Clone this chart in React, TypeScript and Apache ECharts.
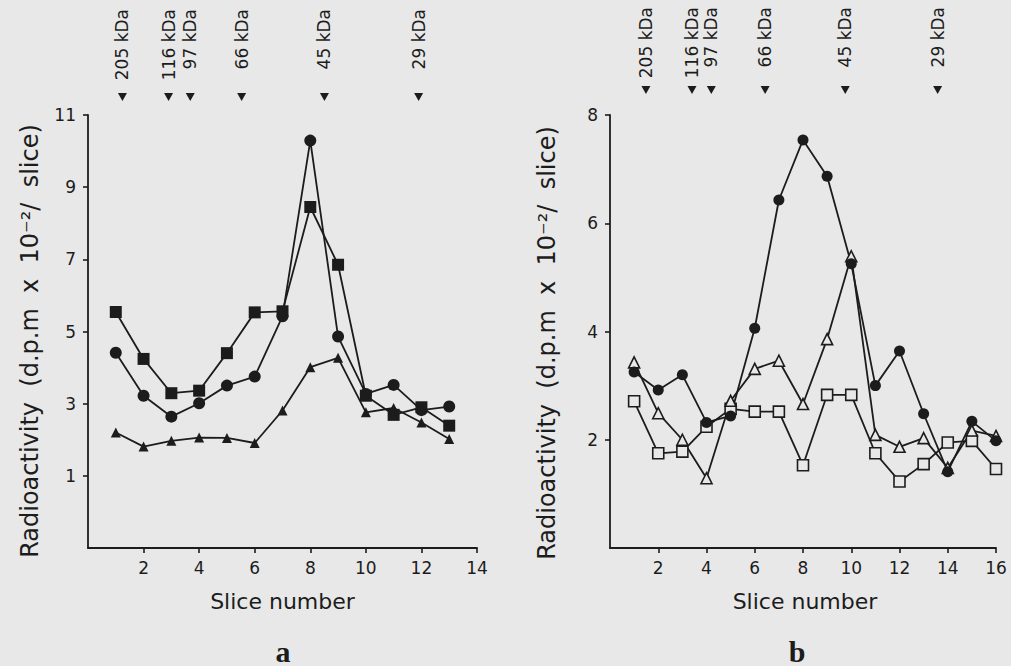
import React, { useEffect, useRef } from "react";
import * as echarts from "echarts";

// ---- Panel a data ----
const slicesA = [1, 2, 3, 4, 5, 6, 7, 8, 9, 10, 11, 12, 13];
const squaresA = [5.54, 4.24, 3.29, 3.36, 4.4, 5.53, 5.56, 8.45, 6.85, 3.22, 2.69, 2.9, 2.39];
const circlesA = [4.41, 3.22, 2.64, 3.01, 3.5, 3.75, 5.42, 10.29, 4.86, 3.27, 3.52, 2.82, 2.92];
const trianglesA = [2.2, 1.81, 1.97, 2.06, 2.05, 1.91, 2.81, 4.01, 4.27, 2.76, 2.88, 2.48, 2.02];
const xTicksA = [2, 4, 6, 8, 10, 12, 14];
const yTicksA = [1, 3, 5, 7, 9, 11];

// ---- Panel b data ----
const slicesB = [1, 2, 3, 4, 5, 6, 7, 8, 9, 10, 11, 12, 13, 14, 15, 16];
const circlesB = [3.25, 2.92, 3.2, 2.32, 2.44, 4.06, 6.43, 7.54, 6.87, 5.25, 3.0, 3.64, 2.48, 1.41, 2.34, 1.98];
const trianglesB = [3.43, 2.49, 2.0, 1.29, 2.72, 3.31, 3.46, 2.66, 3.86, 5.39, 2.09, 1.87, 2.03, 1.48, 2.17, 2.07];
const squaresB = [2.71, 1.75, 1.78, 2.24, 2.57, 2.52, 2.52, 1.53, 2.83, 2.83, 1.75, 1.23, 1.55, 1.95, 1.98, 1.46];
const xTicksB = [2, 4, 6, 8, 10, 12, 14, 16];
const yTicksB = [2, 4, 6, 8];

// ---- Molecular weight markers (positions in slice units) ----
const markerLabels = ["205 kDa", "116 kDa", "97 kDa", "66 kDa", "45 kDa", "29 kDa"];
const markerPosA = [1.24, 2.9, 3.68, 5.53, 8.51, 11.9];
const markerPosB = [1.49, 3.4, 4.2, 6.43, 9.75, 13.58];

const INK = "#1c1c1c";
const BG = "#e8e8e8";
const FONT = "DejaVu Sans";

function lineSeries(idx: number, xs: number[], ys: number[], symbol: string, size: number, filled: boolean) {
  return {
    type: "line",
    xAxisIndex: idx,
    yAxisIndex: idx,
    data: xs.map((x, i) => [x, ys[i]]),
    symbol,
    symbolSize: size,
    showSymbol: true,
    showAllSymbol: true,
    clip: false,
    lineStyle: { color: INK, width: 1.8 },
    itemStyle: {
      color: filled ? INK : BG,
      borderColor: INK,
      borderWidth: filled ? 0 : 1.6,
      opacity: 1,
    },
    emphasis: { disabled: true },
  };
}

function xAxisDef(idx: number, max: number, ticks: number[]) {
  return {
    type: "value",
    gridIndex: idx,
    min: 0,
    max,
    interval: 2,
    axisLine: { show: true, onZero: false, lineStyle: { color: INK, width: 1.8 } },
    axisTick: { show: true, length: 5, customValues: ticks, lineStyle: { color: INK, width: 1.6 } },
    splitLine: { show: false },
    axisLabel: {
      customValues: ticks,
      color: INK,
      fontFamily: FONT,
      fontSize: 17,
      margin: 11,
      formatter: (v: number) => (ticks.indexOf(v) >= 0 ? String(v) : ""),
    },
  };
}

function yAxisDef(idx: number, min: number, max: number, ticks: number[]) {
  return {
    type: "value",
    gridIndex: idx,
    min,
    max,
    interval: 2,
    axisLine: { show: true, onZero: false, lineStyle: { color: INK, width: 1.8 } },
    axisTick: { show: true, length: 5, customValues: ticks, lineStyle: { color: INK, width: 1.6 } },
    splitLine: { show: false },
    axisLabel: {
      customValues: ticks,
      color: INK,
      fontFamily: FONT,
      fontSize: 17,
      margin: 12,
      formatter: (v: number) => (ticks.indexOf(v) >= 0 ? String(v) : ""),
    },
  };
}

export default function App() {
  const ref = useRef<HTMLDivElement>(null);

  useEffect(() => {
    if (!ref.current) return;
    const chart = echarts.init(ref.current, null, { renderer: "svg" });
    chart.setOption({
      animation: false,
      backgroundColor: BG,
      grid: [
        { left: 88, right: 534, top: 115, bottom: 118 },
        { left: 610, right: 15, top: 115, bottom: 118 },
      ],
      xAxis: [xAxisDef(0, 14, xTicksA), xAxisDef(1, 16, xTicksB)],
      yAxis: [yAxisDef(0, -1, 11, yTicksA), yAxisDef(1, 0, 8, yTicksB)],
      series: [
        lineSeries(0, slicesA, trianglesA, "triangle", 10, true),
        lineSeries(0, slicesA, circlesA, "circle", 12, true),
        lineSeries(0, slicesA, squaresA, "rect", 12, true),
        lineSeries(1, slicesB, squaresB, "rect", 11, false),
        lineSeries(1, slicesB, trianglesB, "triangle", 11, false),
        lineSeries(1, slicesB, circlesB, "circle", 11, true),
      ],
    });

    const graphics: any[] = [];
    const addMarkers = (axisIdx: number, positions: number[], triY: number, textTop: number) => {
      positions.forEach((p, i) => {
        const px = chart.convertToPixel({ xAxisIndex: axisIdx }, p) as number;
        graphics.push({
          type: "polygon",
          shape: { points: [[px - 4.5, triY - 4], [px + 4.5, triY - 4], [px, triY + 4]] },
          style: { fill: INK },
          silent: true,
        });
        graphics.push({
          type: "text",
          x: px,
          y: textTop,
          rotation: Math.PI / 2,
          style: {
            text: markerLabels[i],
            fill: INK,
            font: `17px "${FONT}"`,
            align: "right",
            verticalAlign: "middle",
          },
          silent: true,
        });
      });
    };
    addMarkers(0, markerPosA, 97, 9);
    addMarkers(1, markerPosB, 90, 7);

    const yName = (x: number, y: number) => ({
      type: "text",
      x,
      y,
      rotation: Math.PI / 2,
      style: {
        text: "Radioactivity  (d.p.m  x  10⁻²/  slice)",
        fill: INK,
        fontFamily: FONT,
        fontSize: 24,
        align: "center",
        verticalAlign: "middle",
      },
      silent: true,
    });
    graphics.push(yName(30, 341));
    graphics.push(yName(547, 343));

    const xName = (x: number) => ({
      type: "text",
      x,
      y: 601,
      style: {
        text: "Slice number",
        fill: INK,
        fontFamily: FONT,
        fontSize: 22,
        align: "center",
        verticalAlign: "middle",
      },
      silent: true,
    });
    graphics.push(xName(282.5));
    graphics.push(xName(805));

    const panelLabel = (x: number, t: string) => ({
      type: "text",
      x,
      y: 651,
      style: {
        text: t,
        fill: INK,
        fontFamily: "Liberation Serif",
        fontWeight: "bold",
        fontSize: 30,
        align: "center",
        verticalAlign: "middle",
      },
      silent: true,
    });
    graphics.push(panelLabel(283, "a"));
    graphics.push(panelLabel(797, "b"));

    chart.setOption({ graphic: graphics });

    return () => chart.dispose();
  }, []);

  return (
    <div
      ref={ref}
      style={{ position: "fixed", left: 0, top: 0, width: 1011, height: 666 }}
    />
  );
}
